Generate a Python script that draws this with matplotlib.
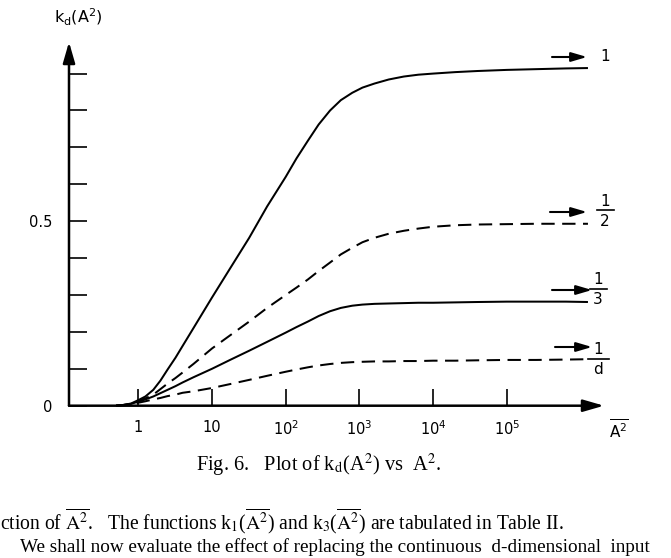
import matplotlib
matplotlib.use("Agg")
import matplotlib.pyplot as plt
from matplotlib.lines import Line2D
from matplotlib.ticker import NullLocator, FixedLocator

plt.rcParams['lines.scale_dashes'] = False
plt.rcParams['font.family'] = ['DejaVu Sans']
plt.rcParams['mathtext.fontset'] = 'dejavusans'

# ---------------- data ----------------
A2 = [0.5, 0.63, 0.8, 1, 1.25, 1.6, 2, 2.5, 3.2, 4, 5.6, 10, 18, 32, 56,
      100, 140, 200, 280, 400, 560, 800, 1100, 1600, 2500, 4000, 6300,
      1e4, 2e4, 4e4, 1e5, 2.5e5, 6.3e5, 1.26e6]
k_one = [0.0, 0.002, 0.006, 0.015, 0.025, 0.043, 0.068, 0.098, 0.13, 0.162,
         0.21, 0.293, 0.375, 0.455, 0.54, 0.62, 0.67, 0.718, 0.762, 0.80,
         0.828, 0.848, 0.862, 0.873, 0.884, 0.892, 0.897, 0.90, 0.904, 0.907,
         0.91, 0.912, 0.914, 0.915]
k_half = [0.0, 0.002, 0.005, 0.013, 0.02, 0.03, 0.045, 0.06, 0.075, 0.09,
          0.113, 0.155, 0.192, 0.228, 0.265, 0.30, 0.32, 0.342, 0.365, 0.388,
          0.41, 0.428, 0.443, 0.455, 0.466, 0.474, 0.48, 0.485, 0.489, 0.491,
          0.492, 0.493, 0.493, 0.493]
k_third = [0.0, 0.002, 0.005, 0.011, 0.017, 0.025, 0.034, 0.043, 0.053, 0.063,
           0.077, 0.10, 0.125, 0.149, 0.173, 0.198, 0.213, 0.228, 0.243, 0.256,
           0.265, 0.271, 0.274, 0.276, 0.277, 0.278, 0.279, 0.279, 0.28, 0.281,
           0.282, 0.282, 0.282, 0.281]
k_d = [0.0, 0.001, 0.003, 0.008, 0.012, 0.017, 0.021, 0.026, 0.03, 0.035,
       0.039, 0.048, 0.059, 0.07, 0.081, 0.092, 0.098, 0.104, 0.109, 0.113,
       0.116, 0.118, 0.119, 0.12, 0.12, 0.121, 0.121, 0.122, 0.122, 0.123,
       0.124, 0.124, 0.125, 0.126]
series_styles = ['solid', 'dashed', 'solid', 'dashed']
limit_num = ['1', '1', '1', '1']
limit_den = [None, '2', '3', 'd']
x_ticks = [1, 10, 100, 1000, 1e4, 1e5]
x_ticklabels = ['1', '10', r'10$^2$', r'10$^3$', r'10$^4$', r'10$^5$']
y_ticks = [0, 0.1, 0.2, 0.3, 0.4, 0.5, 0.6, 0.7, 0.8, 0.9]
y_ticklabels = ['0', '', '', '', '', '0.5', '', '', '', '']

# ---------------- layout ----------------
W, H = 671, 558
fig = plt.figure(figsize=(W / 100, H / 100), dpi=100)


def P(x, y):
    return (x / W, 1 - y / H)


x0, x1, yb, yt = 69, 604, 405.7, 42
ax = fig.add_axes([x0 / W, 1 - yb / H, (x1 - x0) / W, (yb - yt) / H])
ax.set_xscale('log')
ax.set_xlim(0.115, 2.08e6)
ax.set_ylim(0, 0.9856)
for s in ax.spines.values():
    s.set_visible(False)

lw = 1.45
for vals, st in zip([k_one, k_half, k_third, k_d], series_styles):
    line, = ax.plot(A2, vals, color='black', lw=lw, solid_capstyle='butt',
                    solid_joinstyle='round', clip_on=False)
    if st == 'dashed':
        line.set_dashes((9.6, 5.4))

# axes arrows
arrow_axis = dict(arrowstyle='-|>,head_length=0.9,head_width=0.26',
                  lw=1.8, color='black', mutation_scale=14,
                  shrinkA=0, shrinkB=0)
ax.annotate('', xy=(1, 0), xytext=(0, 0), xycoords='axes fraction',
            arrowprops=arrow_axis, annotation_clip=False)
ax.annotate('', xy=(0, 1), xytext=(0, 0), xycoords='axes fraction',
            arrowprops=arrow_axis, annotation_clip=False)

# ticks
ax.xaxis.set_major_locator(FixedLocator(x_ticks))
ax.xaxis.set_minor_locator(NullLocator())
ax.set_xticklabels(x_ticklabels)
ax.set_yticks(y_ticks)
ax.set_yticklabels(y_ticklabels)
ax.tick_params(axis='x', direction='in', length=12.5, width=1.2, pad=10,
               labelsize=10.5)
ax.tick_params(axis='y', direction='in', length=13, width=1.2, pad=12,
               labelsize=10.5)

# axis labels
fig.text(*P(78, 17), r'k$_\mathregular{d}$(A$^\mathregular{2}$)',
         ha='center', va='center', fontsize=11.5)
fig.text(*P(619, 429), r'$\overline{\mathregular{A}^\mathregular{2}}$',
         ha='center', va='center', fontsize=11)

# limit arrows and labels
small_arrow = dict(arrowstyle='-|>,head_length=0.95,head_width=0.28',
                   lw=1.5, color='black', mutation_scale=10,
                   shrinkA=0, shrinkB=0)
# (arrow x start, arrow x end, arrow y, label x, numerator y, bar y, denom y,
#  bar x0, bar x1)
arrow_spec = [(552, 587, 57, 605, 56, None, None, None, None),
              (550, 587, 212, 605, 201.5, 210, 221.5, 597, 614),
              (552, 592, 290, 598, 279, 289, 300, 590, 607),
              (555, 592, 347, 598, 349, 359, 370, 588, 609)]
for spec, num, den in zip(arrow_spec, limit_num, limit_den):
    xa, xb, ya, xl, yn, ybar, yd, bx0, bx1 = spec
    ax.annotate('', xy=P(xb, ya), xytext=P(xa, ya),
                xycoords='figure fraction', textcoords='figure fraction',
                arrowprops=small_arrow, annotation_clip=False)
    fig.text(*P(xl, yn), num, ha='center', va='center', fontsize=11)
    if den is not None:
        fig.add_artist(Line2D([bx0 / W, bx1 / W], [1 - ybar / H] * 2,
                              lw=1.2, color='black'))
        fig.text(*P(xl, yd), den, ha='center', va='center', fontsize=11)

# caption and body text
serif = 'Liberation Serif'
t_cap = fig.text(196 / W, 1 - 465 / H,
                 r'Fig. 6.   Plot of k$_\mathrm{d}$(A$^2$) vs  A$^2$.',
                 ha='left', va='center', family=serif, math_fontfamily='stix',
                 fontsize=11)
t_l1 = fig.text(0, 1 - 521 / H,
                r'ction of $\overline{\mathrm{A}^2}$.   The functions '
                r'k$_1$($\overline{\mathrm{A}^2}$) and '
                r'k$_3$($\overline{\mathrm{A}^2}$) are tabulated in Table II.',
                ha='left', va='center', family=serif, math_fontfamily='stix',
                fontsize=11)
t_l2 = fig.text(20 / W, 1 - 547 / H,
                'We shall now evaluate the effect of replacing the continuous '
                ' d-dimensional  input',
                ha='left', va='center', family=serif, fontsize=11)

fig.canvas.draw()
r = fig.canvas.get_renderer()
for t, target in [(t_cap, 245), (t_l1, 565), (t_l2, 632)]:
    w = t.get_window_extent(r).width
    t.set_fontsize(t.get_fontsize() * target / w)

fig.savefig('out.png', dpi=100)
